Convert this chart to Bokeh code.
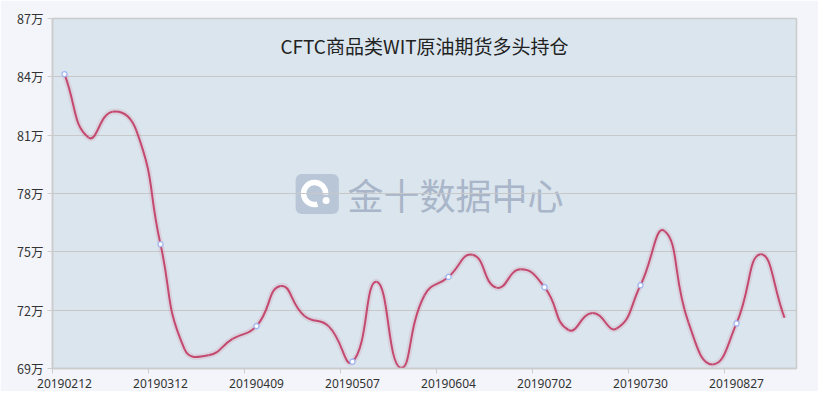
import numpy as np
from bokeh.plotting import figure
from bokeh.models import (ColumnDataSource, Range1d, FixedTicker, PrintfTickFormatter,
                          Label)
from bokeh.embed import file_html
from bokeh.resources import INLINE

# ---- data ----
dates = ["20190212", "20190219", "20190226", "20190305", "20190312", "20190319",
         "20190326", "20190402", "20190409", "20190416", "20190423", "20190430",
         "20190507", "20190514", "20190521", "20190528", "20190604", "20190611",
         "20190618", "20190625", "20190702", "20190709", "20190716", "20190723",
         "20190730", "20190806", "20190813", "20190820", "20190827", "20190903",
         "20190910"]
# long positions, in 万 (10k contracts)
long_pos = [84.14, 80.88, 82.21, 81.22, 75.39, 70.00, 69.68, 70.52, 71.18, 73.24,
            71.70, 71.18, 69.35, 73.46, 69.04, 72.77, 73.71, 74.85, 73.16, 74.10,
            73.18, 70.98, 71.85, 71.05, 73.28, 76.07, 71.36, 69.21, 71.32, 74.87,
            71.61]
y_ticks = [69, 72, 75, 78, 81, 84, 87]
title_text = "CFTC商品类WIT原油期货多头持仓"
watermark_text = "金十数据中心"

x = np.arange(len(long_pos), dtype=float)
y = np.array(long_pos, dtype=float)

# ---- smooth (ECharts-like bezier control points, computed in pixel-like space) ----
SX, SY, SMOOTH = 24.0, 19.43, 0.5
px, py = x * SX, y * SY
n = len(x)
cp_out = np.zeros((n, 2))
cp_in = np.zeros((n, 2))
for i in range(n):
    p_ = np.array([px[i], py[i]])
    prv = np.array([px[i - 1], py[i - 1]]) if i > 0 else p_
    nxt = np.array([px[i + 1], py[i + 1]]) if i < n - 1 else p_
    v = nxt - prv
    lp = np.hypot(*(p_ - prv))
    ln = np.hypot(*(p_ - nxt))
    s = lp + ln
    r = ln / s if s else 0.5
    cp_out[i] = p_ + v * SMOOTH * r
    cp_in[i] = p_ - v * SMOOTH * (1 - r)

seg = ColumnDataSource(dict(
    x0=x[:-1], y0=y[:-1], x1=x[1:], y1=y[1:],
    cx0=cp_out[:-1, 0] / SX, cy0=cp_out[:-1, 1] / SY,
    cx1=cp_in[1:, 0] / SX, cy1=cp_in[1:, 1] / SY,
))
mk = ColumnDataSource(dict(x=x[::4], y=y[::4]))

# ---- figure ----
p = figure(width=818, height=391, output_backend="svg", toolbar_location=None,
           x_range=Range1d(-0.5, len(x) - 0.5), y_range=Range1d(69, 87),
           min_border_left=52, min_border_right=22, min_border_top=18, min_border_bottom=23)
p.background_fill_color = "#dae5ee"
p.border_fill_color = "#f3f5fa"
p.outline_line_color = "#cccccc"
p.outline_line_width = 1.5

# y axis
p.yaxis.ticker = FixedTicker(ticks=y_ticks)
p.yaxis.formatter = PrintfTickFormatter(format="%d万")
p.yaxis.axis_line_color = "#cccccc"
p.yaxis.axis_line_width = 1.5
p.yaxis.major_tick_line_color = "#cccccc"
p.yaxis.major_tick_out = 5
p.yaxis.major_tick_in = 0
p.yaxis.minor_tick_line_color = None
p.yaxis.major_label_standoff = 4
p.yaxis.major_label_text_font = "Noto Sans CJK SC"
p.yaxis.major_label_text_font_size = "12.5px"
p.yaxis.major_label_text_color = "#333333"

# x axis
label_idx = list(range(0, len(dates), 4))
p.xaxis.ticker = FixedTicker(ticks=label_idx, minor_ticks=[i - 0.5 for i in label_idx])
p.xaxis.major_label_overrides = {i: dates[i] for i in label_idx}
p.xaxis.axis_line_color = "#cccccc"
p.xaxis.axis_line_width = 1.5
p.xaxis.major_tick_out = 0
p.xaxis.major_tick_in = 0
p.xaxis.major_tick_line_color = None
p.xaxis.minor_tick_line_color = "#cccccc"
p.xaxis.minor_tick_out = 5
p.xaxis.minor_tick_in = 0
p.xaxis.major_label_standoff = 5
p.xaxis.major_label_text_font = "Noto Sans"
p.xaxis.major_label_text_font_size = "12px"
p.xaxis.major_label_text_color = "#333333"

p.xgrid.grid_line_color = None
p.ygrid.ticker = FixedTicker(ticks=y_ticks)
p.ygrid.grid_line_color = "#c8c8c8"
p.ygrid.grid_line_width = 1

# ---- watermark (behind grid) ----
logo = p.quad(left=[9.63], right=[11.43], bottom=[76.95], top=[79.0],
              fill_color="#b9c6d7", line_color=None, border_radius=6)
logo.level = "image"
ring = p.arc(x=[10.42], y=[78.0], radius=11, radius_units="screen",
             start_angle=-5, end_angle=-75, start_angle_units="deg", end_angle_units="deg",
             line_color="white", line_width=5.5)
ring.level = "image"
dot = p.scatter(x=[10.9], y=[77.64], size=7, fill_color="white", line_color=None)
dot.level = "image"
wm = Label(x=11.79, y=77.98, text=watermark_text, text_font="Noto Sans CJK SC",
           text_font_size="36px", text_color="#a9b5c8", text_align="left",
           text_baseline="middle", level="image")
p.add_layout(wm)

# ---- line ----
p.bezier(x0="x0", y0="y0", x1="x1", y1="y1", cx0="cx0", cy0="cy0", cx1="cx1", cy1="cy1",
         source=seg, line_color="#c4496f", line_width=6, line_alpha=0.12)
p.bezier(x0="x0", y0="y0", x1="x1", y1="y1", cx0="cx0", cy0="cy0", cx1="cx1", cy1="cy1",
         source=seg, line_color="#c4496f", line_width=2)
p.scatter(x="x", y="y", source=mk, size=5, fill_color="white",
          line_color="#9fb6f5", line_width=1.2)

# ---- title ----
title = Label(x=(len(x) - 1) / 2, y=85.6, text=title_text, text_font="Noto Sans CJK SC",
              text_font_size="19px", text_color="#222222", text_align="center",
              text_baseline="middle")
p.add_layout(title)

open("out.html", "w").write(file_html(p, INLINE))
